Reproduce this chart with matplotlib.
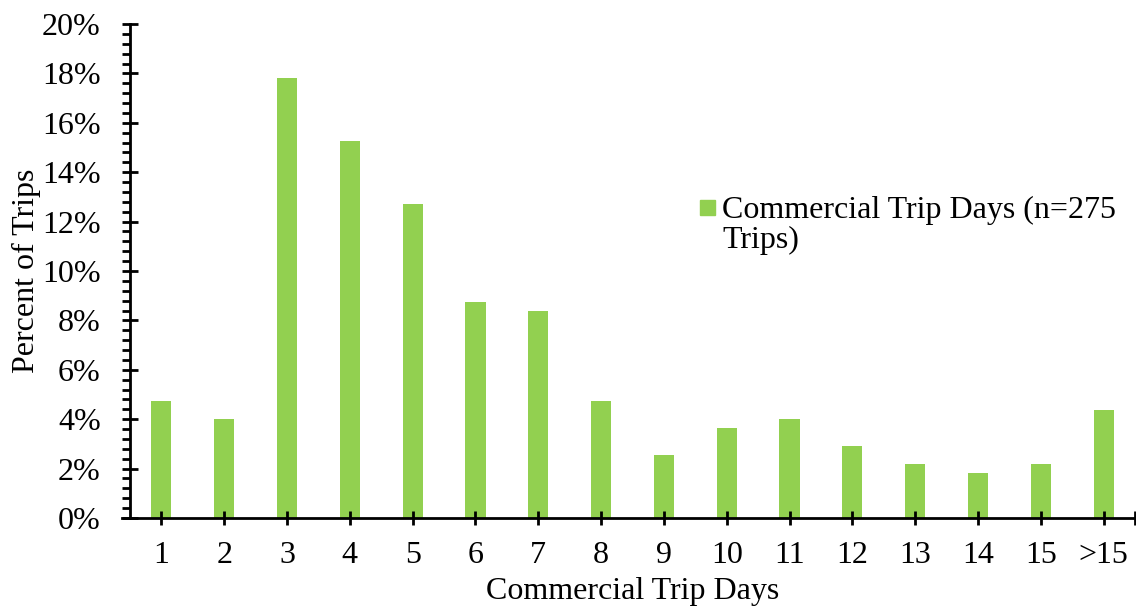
import matplotlib.pyplot as plt
from matplotlib.ticker import MultipleLocator, FixedLocator, PercentFormatter
from matplotlib.patches import Rectangle

plt.rcParams['font.family'] = ['Liberation Serif', 'DejaVu Serif']

# trip length categories and share of trips (n=275)
days = ['1', '2', '3', '4', '5', '6', '7', '8', '9', '10', '11', '12', '13', '14', '15', '>15']
trip_counts = [13, 11, 49, 42, 35, 24, 23, 13, 7, 10, 11, 8, 6, 5, 6, 12]
n_trips = 275
percent = [c / n_trips * 100 for c in trip_counts]
series_label = 'Commercial Trip Days (n=275\nTrips)'

green = '#92D050'
fs = 23

fig = plt.figure(figsize=(11.36, 6.07), dpi=100)
ax = fig.add_axes([130 / 1136, 1 - 518 / 607, 1005 / 1136, 494 / 607])

x = list(range(1, len(days) + 1))
ax.bar(x, percent, width=0.32, color=green)

ax.set_xlim(0.5, len(days) + 0.5)
ax.set_ylim(0, 20)

# spines
for s in ['top', 'right']:
    ax.spines[s].set_visible(False)
for s in ['left', 'bottom']:
    ax.spines[s].set_linewidth(2)
ax.spines['bottom'].set_bounds(0.37, len(days) + 0.5)

# y ticks
ax.yaxis.set_major_locator(MultipleLocator(2))
ax.yaxis.set_minor_locator(MultipleLocator(0.4))
ax.yaxis.set_major_formatter(PercentFormatter(decimals=0))
ax.tick_params(axis='y', which='major', direction='inout', length=12, width=2,
               labelsize=fs, pad=15)
ax.tick_params(axis='y', which='minor', direction='out', length=6, width=2)

# x ticks
ax.set_xticks(x)
ax.set_xticklabels(days)
ax.xaxis.set_minor_locator(FixedLocator([len(days) + 0.5]))
ax.tick_params(axis='x', which='major', direction='inout', length=9.5, width=2,
               labelsize=fs, pad=12)
ax.tick_params(axis='x', which='minor', direction='inout', length=9.5, width=2)

ax.set_xlabel('Commercial Trip Days', fontsize=fs, labelpad=5)
ax.set_ylabel('Percent of Trips', fontsize=fs, labelpad=1)

# legend drawn by hand so the marker sits on the first line
fig.patches.append(Rectangle((700 / 1136, 1 - 215 / 607), 15 / 1136, 15 / 607,
                             transform=fig.transFigure, color=green))
fig.text(722 / 1136, 1 - 196 / 607, series_label, fontsize=fs, va='top',
         ha='left', linespacing=1.05)

fig.savefig('out.png', dpi=100)
